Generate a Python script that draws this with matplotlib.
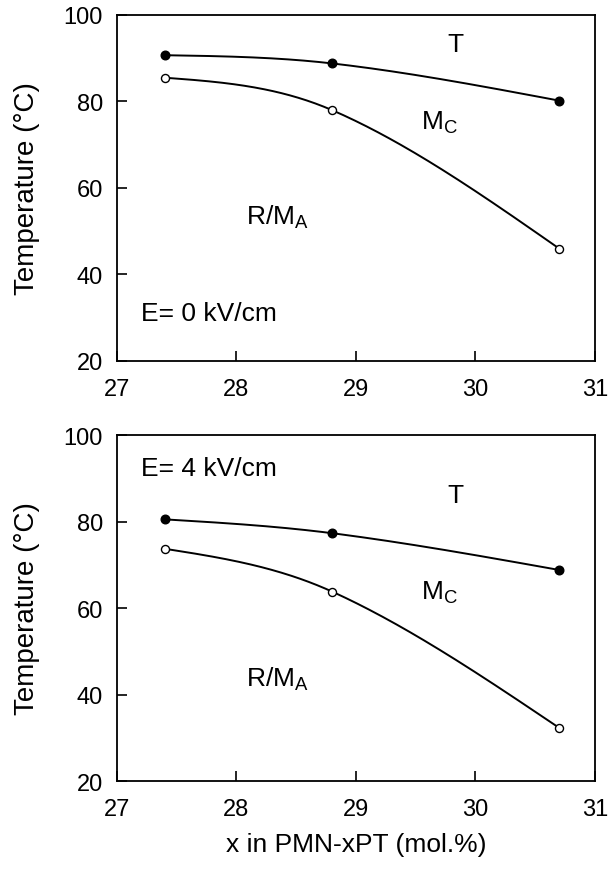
import numpy as np
import matplotlib
matplotlib.use("Agg")
import matplotlib.pyplot as plt

plt.rcParams['font.family'] = ['Liberation Sans', 'DejaVu Sans']
plt.rcParams['mathtext.fontset'] = 'custom'
plt.rcParams['mathtext.rm'] = 'Liberation Sans'
plt.rcParams['mathtext.it'] = 'Liberation Sans'

# composition (mol.% PT)
x_pts = [27.4, 28.8, 30.7]

# E = 0 kV/cm
t_upper_0 = [90.7, 88.8, 80.2]   # filled circles (T / M_C)
t_lower_0 = [85.5, 78.0, 46.0]   # open circles (M_C / R-M_A)

# E = 4 kV/cm
t_upper_4 = [80.5, 77.3, 68.8]
t_lower_4 = [73.7, 63.8, 32.3]

x_ticks = [27, 28, 29, 30, 31]
y_ticks = [20, 40, 60, 80, 100]


def spline_xy(xs, ys, n=100):
    # cubic Hermite through the points, Catmull-Rom tangent inside, natural ends
    xs = np.asarray(xs, float)
    ys = np.asarray(ys, float)
    s = np.diff(ys) / np.diff(xs)
    d = np.zeros_like(ys)
    d[1:-1] = (ys[2:] - ys[:-2]) / (xs[2:] - xs[:-2])
    d[0] = (3 * s[0] - d[1]) / 2
    d[-1] = (3 * s[-1] - d[-2]) / 2
    out_x, out_y = [], []
    for i in range(len(xs) - 1):
        h = xs[i + 1] - xs[i]
        t = np.linspace(0, 1, n)
        h00 = 2 * t**3 - 3 * t**2 + 1
        h10 = t**3 - 2 * t**2 + t
        h01 = -2 * t**3 + 3 * t**2
        h11 = t**3 - t**2
        out_x.append(xs[i] + t * h)
        out_y.append(h00 * ys[i] + h10 * h * d[i] + h01 * ys[i + 1] + h11 * h * d[i + 1])
    return np.concatenate(out_x), np.concatenate(out_y)


def draw_series(ax, xs, ys, filled):
    xx, yy = spline_xy(xs, ys)
    ax.plot(xx, yy, color='black', lw=1.4, zorder=2)
    ax.plot(xs, ys, 'o', ms=6.2 if filled else 5.8,
            mfc='black' if filled else 'white', mec='black', mew=1.0, zorder=3)


fig = plt.figure(figsize=(6.08, 8.78), dpi=100)
ax1 = fig.add_axes([0.1924, 0.5877, 0.7862, 0.3941])
ax2 = fig.add_axes([0.1924, 0.1093, 0.7862, 0.3941])

panels = [
    (ax1, t_upper_0, t_lower_0, "E= 0 kV/cm", (27.2, 31.2), (29.83, 93.3), (29.7, 75.2), (28.34, 53.5)),
    (ax2, t_upper_4, t_lower_4, "E= 4 kV/cm", (27.2, 92.3), (29.83, 86.1), (29.7, 63.8), (28.34, 43.7)),
]

for ax, up, lo, etxt, epos, tpos, mcpos, rpos in panels:
    draw_series(ax, x_pts, up, True)
    draw_series(ax, x_pts, lo, False)
    ax.set_xlim(27, 31)
    ax.set_ylim(20, 100)
    ax.set_xticks(x_ticks)
    ax.set_yticks(y_ticks)
    ax.tick_params(direction='in', length=7, width=1.2, labelsize=17)
    ax.tick_params(axis='x', pad=12)
    ax.tick_params(axis='y', pad=10)
    for sp in ax.spines.values():
        sp.set_linewidth(1.3)
    ax.set_ylabel("Temperature (°C)", fontsize=20, labelpad=17)
    ax.text(epos[0], epos[1], etxt, fontsize=19, va='center', ha='left')
    ax.text(tpos[0], tpos[1], "T", fontsize=19, va='center', ha='center')
    ax.text(mcpos[0], mcpos[1], r"M$_\mathregular{C}$", fontsize=19, va='center', ha='center')
    ax.text(rpos[0], rpos[1], r"R/M$_\mathregular{A}$", fontsize=19, va='center', ha='center')

ax2.set_xlabel("x in PMN-xPT (mol.%)", fontsize=19, labelpad=9)

fig.savefig("out.png", dpi=100)
